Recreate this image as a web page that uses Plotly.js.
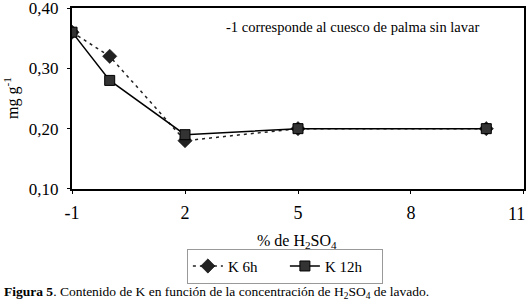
<!DOCTYPE html>
<html>
<head>
<meta charset="utf-8">
<script src="https://cdn.plot.ly/plotly-3.0.1.min.js"></script>
<style>html,body{margin:0;padding:0;background:#fff;}#chart{width:531px;height:302px;}</style>
</head>
<body>
<div id="chart"></div>
<script>
const xValues = [-1, 0, 2, 5, 10];
const k6h = [0.36, 0.32, 0.18, 0.20, 0.20];
const k12h = [0.36, 0.28, 0.19, 0.20, 0.20];
const xTicks = [-1, 2, 5, 8, 11];
const yTicks = [0.10, 0.20, 0.30, 0.40];
const yTickLabels = ['0,10', '0,20', '0,30', '0,40'];
const seriesNames = ['K 6h', 'K 12h'];

const F = '"Liberation Serif", "Times New Roman", serif';
const lastX = xTicks[xTicks.length - 1];
const traces = [
  {x: xValues, y: k6h, name: seriesNames[0], type: 'scatter', mode: 'lines+markers',
   line: {color: '#222', width: 1.5, dash: '3px,4px'},
   marker: {symbol: 'diamond', size: 11, color: '#222', line: {color: '#000', width: 0.5}}},
  {x: xValues, y: k12h, name: seriesNames[1], type: 'scatter', mode: 'lines+markers',
   line: {color: '#000', width: 1.5},
   marker: {symbol: 'square', size: 10, color: '#333', line: {color: '#000', width: 1}}}
];
const layout = {
  width: 531, height: 302,
  margin: {l: 72, r: 7, t: 8, b: 113},
  paper_bgcolor: '#fff', plot_bgcolor: '#fff',
  font: {family: F, color: '#000', size: 16},
  showlegend: true,
  legend: {orientation: 'h', x: 0.471, xanchor: 'center', y: -0.33, yanchor: 'top',
    bordercolor: '#999', borderwidth: 1, font: {family: F, size: 15}, entrywidth: 52, entrywidthmode: 'pixels'},
  xaxis: {range: [-1.001, 11.001], tickvals: xTicks, ticktext: xTicks.map(v => v === lastX ? '' : String(v)),
    showgrid: false, zeroline: false,
    showline: true, linecolor: '#000', linewidth: 2, mirror: true, ticks: 'outside', ticklen: 3, tickcolor: '#000',
    ticklabelstandoff: 3, tickfont: {family: F, size: 18}},
  yaxis: {range: [0.0999, 0.4001], tickvals: yTicks, ticktext: yTickLabels, showgrid: false, zeroline: false,
    showline: true, linecolor: '#000', linewidth: 2, mirror: true, ticks: 'outside', ticklen: 3, tickcolor: '#000',
    ticklabeloverflow: 'allow', ticklabelstandoff: 5, tickfont: {family: F, size: 17}},
  annotations: [
    {text: String(lastX), xref: 'x', yref: 'paper', x: lastX, xshift: -7, y: (189-214)/181,
     xanchor: 'center', yanchor: 'middle', showarrow: false, font: {family: F, size: 18}},
    {text: '-1 corresponde al cuesco de palma sin lavar', xref: 'paper', yref: 'paper', x: (224-72)/452, y: 1-(27-8)/181,
     xanchor: 'left', yanchor: 'middle', showarrow: false, font: {family: F, size: 14.5}},
    {text: '% de H<sub>2</sub>SO<sub>4</sub>', xref: 'paper', yref: 'paper', x: (297-72)/452, y: (189-241)/181,
     xanchor: 'center', yanchor: 'middle', showarrow: false, font: {family: F, size: 16}},
    {text: 'mg g<sup>-1</sup>', xref: 'paper', yref: 'paper', x: (12-72)/452, y: (189-98)/181,
     xanchor: 'center', yanchor: 'middle', showarrow: false, textangle: -90, font: {family: F, size: 16}},
    {text: '<b>Figura 5</b>. Contenido de K en función de la concentración de H<sub>2</sub>SO<sub>4</sub> de lavado.',
     xref: 'paper', yref: 'paper', x: (2-72)/452, y: (189-292)/181, xanchor: 'left', yanchor: 'middle',
     showarrow: false, font: {family: F, size: 13.5}}
  ]
};
Plotly.newPlot('chart', traces, layout, {staticPlot: true, displayModeBar: false});
</script>
</body>
</html>
